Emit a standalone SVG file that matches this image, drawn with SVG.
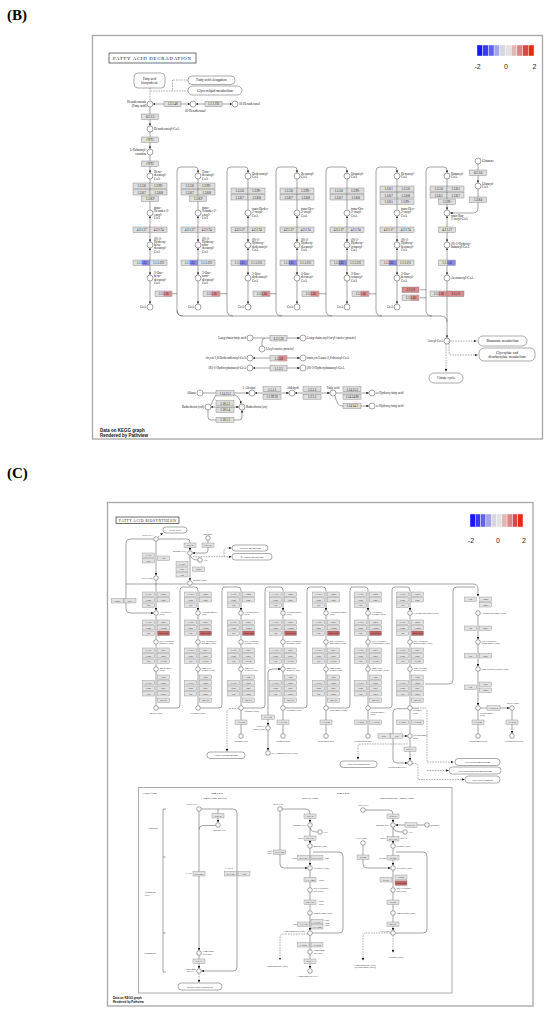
<svg xmlns="http://www.w3.org/2000/svg" width="550" height="1013" viewBox="0 0 550 1013">
<defs>
<marker id="a" viewBox="0 0 4 4" refX="4" refY="2" markerWidth="2.4" markerHeight="2.4" markerUnits="userSpaceOnUse" orient="auto-start-reverse"><path d="M0,0L4,2L0,4z" fill="#111"/></marker>
<style>
.fr{fill:#fff;stroke:#a6a6a6;stroke-width:1.3}
.bb{fill:#dedede;stroke:#666;stroke-width:0.35;width:17px;height:5.5px}
.cb{fill:#e2e2e2;stroke:#666;stroke-width:0.3;width:12px;height:4.5px}
.bl{fill:#8787e6}
.rd{fill:#d98c8c}
.rc{fill:#c26464}
.bt{font-family:"Liberation Serif",serif;font-size:3px;text-anchor:middle;fill:#111}
.ct{font-family:"Liberation Serif",serif;font-size:2.3px;text-anchor:middle;fill:#111}
.lb{font-family:"Liberation Serif",serif;font-size:3.2px;fill:#111}
.lc{font-family:"Liberation Serif",serif;font-size:2.4px;fill:#111}
.mt{font-family:"Liberation Serif",serif;font-size:3.6px;fill:#111;text-anchor:middle}
.mc{font-family:"Liberation Serif",serif;font-size:2.5px;fill:#111;text-anchor:middle}
.r{text-anchor:end}
.m{text-anchor:middle}
.n{fill:#fff;stroke:#333;stroke-width:0.45}
.l{fill:none;stroke:#333;stroke-width:0.45}
.d{fill:none;stroke:#444;stroke-width:0.45;stroke-dasharray:1.6 1}
.mp{fill:#fff;stroke:#444;stroke-width:0.45}
.sc{font-family:"Liberation Sans",Arial,sans-serif;font-size:7px;fill:#222;text-anchor:middle}
.ft{font-family:"Liberation Sans",Arial,sans-serif;font-weight:bold;fill:#111}
.pl{font-family:"Liberation Serif",serif;font-weight:bold;font-size:15px;fill:#000}
.ttl{fill:#fff;stroke:#333;stroke-width:0.7}
.seg{stroke:#fff;stroke-width:0.4}
</style>
</defs>
<rect width="550" height="1013" fill="#fff"/>
<text class="pl" x="7" y="20">(B)</text>
<text class="pl" x="7" y="478">(C)</text>
<rect class="fr" x="92.5" y="35.5" width="450" height="403.5"/>
<rect class="fr" x="107.5" y="502.5" width="425.5" height="503.5"/>

<g id="connectors">
<!-- panel B top -->
<path class="d" d="M188,80H172.5V91M150.5,91H188M150,88V100.5"/>
<path class="l" d="M153,104H190" marker-start="url(#a)" marker-end="url(#a)"/>
<path class="l" d="M196,104H232" marker-start="url(#a)" marker-end="url(#a)"/>
<path class="l" d="M150,107V125.8" marker-end="url(#a)"/>
<path class="l" d="M150,132V148.8" marker-end="url(#a)"/>
<path class="l" d="M150,155V172.8" marker-end="url(#a)"/>
<!-- B columns -->
<path class="l" d="M150,179V209.8M198,179V209.8M248,179V209.8M297,179V209.8M347,179V209.8M397,179V209.8M447,179V209.8" marker-end="url(#a)"/>
<path class="l" d="M150,216V241.8" marker-start="url(#a)" marker-end="url(#a)"/>
<path class="l" d="M198,216V241.8" marker-start="url(#a)" marker-end="url(#a)"/>
<path class="l" d="M248,216V241.8" marker-start="url(#a)" marker-end="url(#a)"/>
<path class="l" d="M297,216V241.8" marker-start="url(#a)" marker-end="url(#a)"/>
<path class="l" d="M347,216V241.8" marker-start="url(#a)" marker-end="url(#a)"/>
<path class="l" d="M397,216V241.8" marker-start="url(#a)" marker-end="url(#a)"/>
<path class="l" d="M447,216V241.8" marker-start="url(#a)" marker-end="url(#a)"/>
<path class="l" d="M150,248V274.8" marker-start="url(#a)" marker-end="url(#a)"/>
<path class="l" d="M198,248V274.8" marker-start="url(#a)" marker-end="url(#a)"/>
<path class="l" d="M248,248V274.8" marker-start="url(#a)" marker-end="url(#a)"/>
<path class="l" d="M297,248V274.8" marker-start="url(#a)" marker-end="url(#a)"/>
<path class="l" d="M347,248V274.8" marker-start="url(#a)" marker-end="url(#a)"/>
<path class="l" d="M397,248V274.8" marker-start="url(#a)" marker-end="url(#a)"/>
<path class="l" d="M447,248V274.8" marker-start="url(#a)" marker-end="url(#a)"/>
<path class="l" d="M150,281V303.8" marker-end="url(#a)"/>
<path class="l" d="M198,281V303.8" marker-end="url(#a)"/>
<path class="l" d="M248,281V303.8" marker-end="url(#a)"/>
<path class="l" d="M297,281V303.8" marker-end="url(#a)"/>
<path class="l" d="M347,281V303.8" marker-end="url(#a)"/>
<path class="l" d="M397,281V303.8" marker-end="url(#a)"/>
<path class="l" d="M447,281V337.8" marker-end="url(#a)"/>
<!-- B loops -->
<path class="l" d="M183,316Q177,316 177,310V171Q177,167 181,167H195Q198,167 198,170V172.8" marker-end="url(#a)"/>
<path class="l" d="M233,316Q227,316 227,310V171Q227,167 231,167H245Q248,167 248,170V172.8" marker-end="url(#a)"/>
<path class="l" d="M282,316Q276,316 276,310V171Q276,167 280,167H294Q297,167 297,170V172.8" marker-end="url(#a)"/>
<path class="l" d="M332,316Q326,316 326,310V171Q326,167 330,167H344Q347,167 347,170V172.8" marker-end="url(#a)"/>
<path class="l" d="M382,316Q376,316 376,310V171Q376,167 380,167H394Q397,167 397,170V172.8" marker-end="url(#a)"/>
<path class="l" d="M432,316Q426,316 426,310V171Q426,167 430,167H444Q447,167 447,170V172.8" marker-end="url(#a)"/>
<path class="l" d="M177,310Q177,316 183,316H441Q447,316 447,322"/>
<path class="l" d="M172,293.75H177M220,293.75H227M270,293.75H276M319,293.75H326M369,293.75H376M420,289.75H426M420,297.75H426"/>
<!-- glutarate -->
<path class="l" d="M478,164V182.8" marker-end="url(#a)"/>
<path class="l" d="M478,189V208Q478,213 473,213H450.2" marker-end="url(#a)"/>
<!-- acetyl-CoA dashed -->
<path class="d" d="M450,341H476.5" marker-end="url(#a)"/>
<path class="d" d="M449,344V352Q449,355 452,355H477.5" marker-end="url(#a)"/>
<path class="d" d="M446,344V371.5" marker-end="url(#a)"/>
<!-- B lower reactions -->
<path class="l" d="M253,338H299.8" marker-end="url(#a)"/>
<path class="l" d="M262,346V341Q262,338.3 265,338.3"/>
<path class="l" d="M253,358H299.8" marker-start="url(#a)" marker-end="url(#a)"/>
<path class="l" d="M253,368H299.8" marker-start="url(#a)" marker-end="url(#a)"/>
<path class="l" d="M203,393H248.8" marker-end="url(#a)"/>
<path class="l" d="M211,405Q214,397 216.5,394.5"/>
<path class="l" d="M234,394.5Q240,397 241,403.8" marker-end="url(#a)"/>
<path class="l" d="M211,407H238.8" marker-start="url(#a)" marker-end="url(#a)"/>
<path class="l" d="M208,410V417Q208,420 211,420H239Q242,420 242,417V410.2" marker-end="url(#a)"/>
<path class="l" d="M255,393H288.8" marker-start="url(#a)" marker-end="url(#a)"/>
<path class="l" d="M295,393H329.8" marker-start="url(#a)" marker-end="url(#a)"/>
<path class="l" d="M336,393H368.8" marker-end="url(#a)"/>
<path class="l" d="M335,395.5Q337,406 342,406H368.8" marker-end="url(#a)"/>

<!-- panel C top -->
<path class="l" d="M156,541.3V575.5" marker-end="url(#a)"/>
<path class="d" d="M158,537L162.8,533" marker-end="url(#a)"/>
<path class="l" d="M153.7,539H130Q126,539 126,543V609Q126,613 130,613H153.5" marker-end="url(#a)"/>
<path class="l" d="M158.3,539H187Q190,539 190,542V550.5" marker-end="url(#a)"/>
<path class="l" d="M208,540.3V550Q208,553 205,553H192.5" marker-end="url(#a)"/>
<path class="d" d="M192.8,556.7H231.5" marker-end="url(#a)"/>
<path class="d" d="M224,556.7V551Q224,548 227,548H231.5" marker-end="url(#a)"/>
<path class="l" d="M190.5,556Q192,560 197.6,560"/>
<path class="l" d="M190,555.3V580.6" marker-end="url(#a)"/>
<path class="l" d="M126,584H187.7M192.3,584H473Q478,584 478,589V596.5" marker-end="url(#a)"/>
<path class="l" d="M156,580.3V610.5" marker-end="url(#a)"/>
<!-- C loops -->
<path class="l" d="M158.3,708H177Q180,708 180,705V590Q180,587 183,587H195Q198,587 198,590V610.5" marker-end="url(#a)"/>
<path class="l" d="M200.3,708H219Q222,708 222,705V590Q222,587 225,587H238Q241,587 241,590V610.5" marker-end="url(#a)"/>
<path class="l" d="M243.3,708H262Q265,708 265,705V590Q265,587 268,587H280Q283,587 283,590V610.5" marker-end="url(#a)"/>
<path class="l" d="M285.3,708H304Q307,708 307,705V590Q307,587 310,587H323Q326,587 326,590V610.5" marker-end="url(#a)"/>
<path class="l" d="M328.3,708H347Q350,708 350,705V590Q350,587 353,587H365Q368,587 368,590V610.5" marker-end="url(#a)"/>
<path class="l" d="M370.3,708H389Q392,708 392,705V590Q392,587 395,587H407Q410,587 410,590V610.5" marker-end="url(#a)"/>
<path class="l" d="M425,684H449Q453,684 453,680V591Q453,587 457,587H475"/>
<!-- C column steps -->
<path class="l" d="M156,615.3V639.5M198,615.3V639.5M241,615.3V639.5M283,615.3V639.5M326,615.3V639.5M368,615.3V639.5M410,615.3V639.5M478,615.3V639.5" marker-end="url(#a)"/>
<path class="l" d="M156,644.3V666.5M198,644.3V666.5M241,644.3V666.5M283,644.3V666.5M326,644.3V666.5M368,644.3V666.5M410,644.3V666.5M478,644.3V666.5" marker-end="url(#a)"/>
<path class="l" d="M156,671.3V705.5M198,671.3V705.5M241,671.3V705.5M283,671.3V705.5M326,671.3V705.5M368,671.3V705.5M410,671.3V705.5M478,671.3V705.5" marker-end="url(#a)"/>
<path class="l" d="M241,710.3V733.5M283,710.3V733.5M326,710.3V733.5M368,710.3V733.5M410,710.3V733.5M478,710.3V733.5M512,710.3V733.5" marker-end="url(#a)"/>
<path class="d" d="M238.7,708.5H231Q227,708.5 227,712.5V751.5" marker-end="url(#a)"/>
<path class="l" d="M280.7,669H272Q268,669 268,673V725.5" marker-start="url(#a)" marker-end="url(#a)"/>
<path class="l" d="M268,730.3V750.5" marker-end="url(#a)"/>
<path class="l" d="M410,738.3V760.5" marker-end="url(#a)"/>
<path class="l" d="M393,736H407.5" marker-end="url(#a)"/>
<path class="l" d="M407.7,708.7H397Q393,708.7 393,712.7V759Q393,763 397,763H407.5" marker-end="url(#a)"/>
<path class="d" d="M407.5,744H361Q358,744 358,747V759.5" marker-end="url(#a)"/>
<path class="d" d="M412.3,708H424Q427,708 427,711V762H453.5" marker-end="url(#a)"/>
<path class="d" d="M427,770.5H448.5" marker-end="url(#a)"/>
<path class="d" d="M412.3,763.5H415Q418,763.5 418,766.5V779.5H464.5" marker-end="url(#a)"/>
<path class="l" d="M480.3,708H509.5" marker-end="url(#a)"/>
<!-- Type I FAS -->
<path class="l" d="M199,811.3V950.5" marker-end="url(#a)"/>
<path class="l" d="M201.3,809H233Q237,809 237,813V967Q237,971 233,971H201.5" marker-end="url(#a)"/>
<path class="l" d="M218,809V822.5" marker-end="url(#a)"/>
<path class="l" d="M215.7,825.5H203Q199,825.5 199,829.5"/>
<path class="l" d="M199,955.3V968.5" marker-end="url(#a)"/>
<path class="d" d="M199,973.3V982.5" marker-end="url(#a)"/>
<!-- Type II bacteria -->
<path class="l" d="M282.3,809H306Q310,809 310,813V822.5" marker-end="url(#a)"/>
<path class="l" d="M280,811.3V864Q280,868 284,868H307.5" marker-end="url(#a)"/>
<path class="l" d="M310,828Q311,832 317.5,832"/>
<path class="l" d="M310,827.3V843.5" marker-end="url(#a)"/>
<path class="l" d="M310,848.3V865.5" marker-end="url(#a)"/>
<path class="l" d="M313,852H339Q343,852 343,856V929Q343,933 339,933H312.3"/>
<path class="l" d="M310,870.3V887.5M310,892.3V910.5M310,915.3V930.5" marker-end="url(#a)"/>
<path class="d" d="M307.7,934H284Q280,934 280,938V960" marker-end="url(#a)"/>
<path class="l" d="M310,935.3V949.5M310,954.3V968.5" marker-end="url(#a)"/>
<!-- mitochondrion -->
<path class="l" d="M365.3,810H389Q393,810 393,814V822.5" marker-end="url(#a)"/>
<path class="l" d="M424.7,825H395.5" marker-end="url(#a)"/>
<path class="l" d="M393,828Q394,832 402.5,832"/>
<path class="l" d="M393,827.3V843.5" marker-end="url(#a)"/>
<path class="l" d="M363,845.3V864Q363,868 367,868H390.5" marker-end="url(#a)"/>
<path class="l" d="M393,848.3V865.5" marker-end="url(#a)"/>
<path class="l" d="M396,852H423Q427,852 427,856V929Q427,933 423,933H395.3"/>
<path class="l" d="M393,870.3V887.5M393,892.3V910.5M393,915.3V930.5" marker-end="url(#a)"/>
<path class="d" d="M393,935.3V952.5" marker-end="url(#a)"/>
<path class="d" d="M390.7,933H367Q363,933 363,937V960.5" marker-end="url(#a)"/>
</g>

<!-- ============ PANEL B ============ -->
<g id="b-title"><rect class="ttl" x="109" y="53" width="87" height="10"/><text x="113" y="60.3" font-family="Liberation Serif, serif" font-size="4.8" textLength="78" fill="#111">FATTY ACID DEGRADATION</text></g>
<g id="b-scale">
<rect class="seg" x="477" y="45" width="5.7" height="11" fill="#1515ff"/><rect class="seg" x="482.7" y="45" width="5.7" height="11" fill="#3a3aff"/><rect class="seg" x="488.4" y="45" width="5.7" height="11" fill="#6262f0"/><rect class="seg" x="494.1" y="45" width="5.7" height="11" fill="#a4a4ee"/><rect class="seg" x="499.8" y="45" width="5.7" height="11" fill="#d6d6e0"/><rect class="seg" x="505.5" y="45" width="5.7" height="11" fill="#e2e2e2"/><rect class="seg" x="511.2" y="45" width="5.7" height="11" fill="#e6b4b4"/><rect class="seg" x="516.9" y="45" width="5.7" height="11" fill="#dc8484"/><rect class="seg" x="522.6" y="45" width="5.7" height="11" fill="#d84848"/><rect class="seg" x="528.3" y="45" width="5.7" height="11" fill="#ec2a10"/>
<text class="sc" x="477.5" y="69">-2</text><text class="sc" x="506" y="69">0</text><text class="sc" x="534.5" y="69">2</text>
</g>
<g id="b-maps">
<rect class="mp" x="134" y="73" width="31" height="15" rx="4"/><text class="mt" x="149.5" y="79.6" style="font-size:3.3px">Fatty acid</text><text class="mt" x="149.5" y="83.6" style="font-size:3.3px">biosynthesis</text>
<rect class="mp" x="188" y="76" width="47" height="8.5" rx="4"/><text class="mt" x="211.5" y="81.4">Fatty acid elongation</text>
<rect class="mp" x="188" y="86" width="54" height="9" rx="4.5"/><text class="mt" x="215" y="91.6">Glycerolipid metabolism</text>
<rect class="mp" x="478" y="336" width="49" height="10" rx="5"/><text class="mt" x="502.5" y="342.2">Butanoate metabolism</text>
<rect class="mp" x="479" y="348" width="56" height="13" rx="5"/><text class="mt" x="507" y="353.5">Glyoxylate and</text><text class="mt" x="507" y="357.8">dicarboxylate metabolism</text>
<rect class="mp" x="429" y="373" width="34" height="10" rx="5"/><text class="mt" x="446" y="379.2">Citrate cycle</text>
</g>
<g id="b-top">
<circle class="n" cx="150" cy="104" r="3"/><text class="lb r" x="146.5" y="103">Hexadecanoate</text><text class="lb r" x="146.5" y="107">(Fatty acid)</text>
<rect class="bb" x="164" y="101.3"/><text class="bt" x="172.5" y="105.4">1.2.1.48</text>
<circle class="n" cx="193" cy="104" r="3"/><text class="lb m" x="195" y="111.5">16-Hexadecanal</text>
<rect class="bb" x="205" y="101.3"/><text class="bt" x="213.5" y="105.4">1.1.1.192</text>
<circle class="n" cx="235" cy="104" r="3"/><text class="lb" x="239" y="105.2">16-Hexadecanol</text>
<rect class="bb" x="141.5" y="114"/><text class="bt" x="150" y="118.1">6.2.1.3</text>
<circle class="n" cx="150" cy="129" r="3"/><text class="lb" x="154" y="130.2">Hexadecanoyl-CoA</text>
<rect class="bb" x="141.5" y="137"/><text class="bt" x="150" y="141.1">CPT1</text>
<circle class="n" cx="150" cy="152" r="3"/><text class="lb r" x="146.5" y="151">L-Palmitoyl-</text><text class="lb r" x="146.5" y="154.6">carnitine</text>
<rect class="bb" x="141.5" y="161"/><text class="bt" x="150" y="165.1">CPT2</text>
</g>

<g id="b-col1" transform="translate(150,0)">
<rect class="bb" x="-17" y="183"/><text class="bt" x="-8.5" y="187.1">1.3.3.6</text>
<rect class="bb" x="0" y="183"/><text class="bt" x="8.5" y="187.1">1.3.99.-</text>
<rect class="bb" x="-17" y="189.5"/><text class="bt" x="-8.5" y="193.6">1.3.8.7</text>
<rect class="bb" x="0" y="189.5"/><text class="bt" x="8.5" y="193.6">1.3.8.8</text>
<rect class="bb" x="-8.5" y="196"/><text class="bt" x="0" y="200.1">1.3.8.9</text>
<rect class="bb" x="-17" y="227"/><text class="bt" x="-8.5" y="231.1">4.2.1.17</text>
<rect class="bb" x="0" y="227"/><text class="bt" x="8.5" y="231.1">4.2.1.74</text>
<rect class="bb" x="-17" y="260"/><rect class="bl" x="-8.2" y="260.2" width="8" height="5.1"/><text class="bt" x="-8.5" y="264.1">1.1.1.35</text>
<rect class="bb" x="0" y="260"/><text class="bt" x="8.5" y="264.1">1.1.1.211</text>
<rect class="bb" x="5" y="291"/><rect class="rd" x="13.5" y="291.2" width="8.3" height="5.1"/><text class="bt" x="13.5" y="295.1">2.3.1.16</text>
<circle class="n" cx="0" cy="176" r="3"/><text class="lb" y="173"><tspan x="4">Hexa-</tspan><tspan x="4" dy="3.3">decanoyl-</tspan><tspan x="4" dy="3.3">CoA</tspan></text>
<circle class="n" cx="0" cy="213" r="3"/><text class="lb" y="209"><tspan x="4">trans-</tspan><tspan x="4" dy="3.3">Hexadec-2-</tspan><tspan x="4" dy="3.3">enoyl-</tspan><tspan x="4" dy="3.3">CoA</tspan></text>
<circle class="n" cx="0" cy="245" r="3"/><text class="lb" y="239.5"><tspan x="4">(S)-3-</tspan><tspan x="4" dy="3.3">Hydroxy-</tspan><tspan x="4" dy="3.3">hexa-</tspan><tspan x="4" dy="3.3">decanoyl-</tspan><tspan x="4" dy="3.3">CoA</tspan></text>
<circle class="n" cx="0" cy="278" r="3"/><text class="lb" y="274"><tspan x="4">3-Oxo-</tspan><tspan x="4" dy="3.3">hexa-</tspan><tspan x="4" dy="3.3">decanoyl-</tspan><tspan x="4" dy="3.3">CoA</tspan></text>
<circle class="n" cx="0" cy="307" r="3"/><text class="lb r" x="-4" y="308.2">CoA</text>
</g>

<g id="b-col2" transform="translate(198,0)">
<rect class="bb" x="-17" y="183"/><text class="bt" x="-8.5" y="187.1">1.3.3.6</text>
<rect class="bb" x="0" y="183"/><text class="bt" x="8.5" y="187.1">1.3.99.-</text>
<rect class="bb" x="-17" y="189.5"/><text class="bt" x="-8.5" y="193.6">1.3.8.7</text>
<rect class="bb" x="0" y="189.5"/><text class="bt" x="8.5" y="193.6">1.3.8.8</text>
<rect class="bb" x="-8.5" y="196"/><text class="bt" x="0" y="200.1">1.3.8.9</text>
<rect class="bb" x="-17" y="227"/><text class="bt" x="-8.5" y="231.1">4.2.1.17</text>
<rect class="bb" x="0" y="227"/><text class="bt" x="8.5" y="231.1">4.2.1.74</text>
<rect class="bb" x="-17" y="260"/><rect class="bl" x="-8.2" y="260.2" width="8" height="5.1"/><text class="bt" x="-8.5" y="264.1">1.1.1.35</text>
<rect class="bb" x="0" y="260"/><text class="bt" x="8.5" y="264.1">1.1.1.211</text>
<rect class="bb" x="5" y="291"/><rect class="rd" x="13.5" y="291.2" width="8.3" height="5.1"/><text class="bt" x="13.5" y="295.1">2.3.1.16</text>
<circle class="n" cx="0" cy="176" r="3"/><text class="lb" y="173"><tspan x="4">Tetra-</tspan><tspan x="4" dy="3.3">decanoyl-</tspan><tspan x="4" dy="3.3">CoA</tspan></text>
<circle class="n" cx="0" cy="213" r="3"/><text class="lb" y="209"><tspan x="4">trans-</tspan><tspan x="4" dy="3.3">Tetradec-2-</tspan><tspan x="4" dy="3.3">enoyl-</tspan><tspan x="4" dy="3.3">CoA</tspan></text>
<circle class="n" cx="0" cy="245" r="3"/><text class="lb" y="239.5"><tspan x="4">(S)-3-</tspan><tspan x="4" dy="3.3">Hydroxy-</tspan><tspan x="4" dy="3.3">tetra-</tspan><tspan x="4" dy="3.3">decanoyl-</tspan><tspan x="4" dy="3.3">CoA</tspan></text>
<circle class="n" cx="0" cy="278" r="3"/><text class="lb" y="274"><tspan x="4">3-Oxo-</tspan><tspan x="4" dy="3.3">tetra-</tspan><tspan x="4" dy="3.3">decanoyl-</tspan><tspan x="4" dy="3.3">CoA</tspan></text>
<circle class="n" cx="0" cy="307" r="3"/><text class="lb r" x="-4" y="308.2">CoA</text>
</g>

<g id="b-col3" transform="translate(248,0)">
<rect class="bb" x="-17" y="188"/><text class="bt" x="-8.5" y="192.1">1.3.3.6</text>
<rect class="bb" x="0" y="188"/><text class="bt" x="8.5" y="192.1">1.3.99.-</text>
<rect class="bb" x="-17" y="194.5"/><text class="bt" x="-8.5" y="198.6">1.3.8.7</text>
<rect class="bb" x="0" y="194.5"/><text class="bt" x="8.5" y="198.6">1.3.8.8</text>
<rect class="bb" x="-17" y="227"/><text class="bt" x="-8.5" y="231.1">4.2.1.17</text>
<rect class="bb" x="0" y="227"/><text class="bt" x="8.5" y="231.1">4.2.1.74</text>
<rect class="bb" x="-17" y="260"/><rect class="bl" x="-8.2" y="260.2" width="8" height="5.1"/><text class="bt" x="-8.5" y="264.1">1.1.1.35</text>
<rect class="bb" x="0" y="260"/><text class="bt" x="8.5" y="264.1">1.1.1.211</text>
<rect class="bb" x="5" y="291"/><rect class="rd" x="13.5" y="291.2" width="8.3" height="5.1"/><text class="bt" x="13.5" y="295.1">2.3.1.16</text>
<circle class="n" cx="0" cy="176" r="3"/><text class="lb" y="175"><tspan x="4">Dodecanoyl-</tspan><tspan x="4" dy="3.3">CoA</tspan></text>
<circle class="n" cx="0" cy="213" r="3"/><text class="lb" y="210"><tspan x="4">trans-Dodec-</tspan><tspan x="4" dy="3.3">2-enoyl-</tspan><tspan x="4" dy="3.3">CoA</tspan></text>
<circle class="n" cx="0" cy="245" r="3"/><text class="lb" y="241"><tspan x="4">(S)-3-</tspan><tspan x="4" dy="3.3">Hydroxy-</tspan><tspan x="4" dy="3.3">dodecanoyl-</tspan><tspan x="4" dy="3.3">CoA</tspan></text>
<circle class="n" cx="0" cy="278" r="3"/><text class="lb" y="275"><tspan x="4">3-Oxo-</tspan><tspan x="4" dy="3.3">dodecanoyl-</tspan><tspan x="4" dy="3.3">CoA</tspan></text>
<circle class="n" cx="0" cy="307" r="3"/><text class="lb r" x="-4" y="308.2">CoA</text>
</g>

<g id="b-col4" transform="translate(297,0)">
<rect class="bb" x="-17" y="188"/><text class="bt" x="-8.5" y="192.1">1.3.3.6</text>
<rect class="bb" x="0" y="188"/><text class="bt" x="8.5" y="192.1">1.3.99.-</text>
<rect class="bb" x="-17" y="194.5"/><text class="bt" x="-8.5" y="198.6">1.3.8.7</text>
<rect class="bb" x="0" y="194.5"/><text class="bt" x="8.5" y="198.6">1.3.8.8</text>
<rect class="bb" x="-17" y="227"/><text class="bt" x="-8.5" y="231.1">4.2.1.17</text>
<rect class="bb" x="0" y="227"/><text class="bt" x="8.5" y="231.1">4.2.1.74</text>
<rect class="bb" x="-17" y="260"/><rect class="bl" x="-8.2" y="260.2" width="8" height="5.1"/><text class="bt" x="-8.5" y="264.1">1.1.1.35</text>
<rect class="bb" x="0" y="260"/><text class="bt" x="8.5" y="264.1">1.1.1.211</text>
<rect class="bb" x="5" y="291"/><rect class="rd" x="13.5" y="291.2" width="8.3" height="5.1"/><text class="bt" x="13.5" y="295.1">2.3.1.16</text>
<circle class="n" cx="0" cy="176" r="3"/><text class="lb" y="175"><tspan x="4">Decanoyl-</tspan><tspan x="4" dy="3.3">CoA</tspan></text>
<circle class="n" cx="0" cy="213" r="3"/><text class="lb" y="210"><tspan x="4">trans-Dec-</tspan><tspan x="4" dy="3.3">2-enoyl-</tspan><tspan x="4" dy="3.3">CoA</tspan></text>
<circle class="n" cx="0" cy="245" r="3"/><text class="lb" y="241"><tspan x="4">(S)-3-</tspan><tspan x="4" dy="3.3">Hydroxy-</tspan><tspan x="4" dy="3.3">decanoyl-</tspan><tspan x="4" dy="3.3">CoA</tspan></text>
<circle class="n" cx="0" cy="278" r="3"/><text class="lb" y="275"><tspan x="4">3-Oxo-</tspan><tspan x="4" dy="3.3">decanoyl-</tspan><tspan x="4" dy="3.3">CoA</tspan></text>
<circle class="n" cx="0" cy="307" r="3"/><text class="lb r" x="-4" y="308.2">CoA</text>
</g>

<g id="b-col5" transform="translate(347,0)">
<rect class="bb" x="-17" y="188"/><text class="bt" x="-8.5" y="192.1">1.3.3.6</text>
<rect class="bb" x="0" y="188"/><text class="bt" x="8.5" y="192.1">1.3.99.-</text>
<rect class="bb" x="-17" y="194.5"/><text class="bt" x="-8.5" y="198.6">1.3.8.7</text>
<rect class="bb" x="0" y="194.5"/><text class="bt" x="8.5" y="198.6">1.3.8.8</text>
<rect class="bb" x="-17" y="227"/><text class="bt" x="-8.5" y="231.1">4.2.1.17</text>
<rect class="bb" x="0" y="227"/><text class="bt" x="8.5" y="231.1">4.2.1.74</text>
<rect class="bb" x="-17" y="260"/><rect class="bl" x="-8.2" y="260.2" width="8" height="5.1"/><text class="bt" x="-8.5" y="264.1">1.1.1.35</text>
<rect class="bb" x="0" y="260"/><text class="bt" x="8.5" y="264.1">1.1.1.211</text>
<rect class="bb" x="5" y="291"/><rect class="rd" x="13.5" y="291.2" width="8.3" height="5.1"/><text class="bt" x="13.5" y="295.1">2.3.1.16</text>
<circle class="n" cx="0" cy="176" r="3"/><text class="lb" y="175"><tspan x="4">Octanoyl-</tspan><tspan x="4" dy="3.3">CoA</tspan></text>
<circle class="n" cx="0" cy="213" r="3"/><text class="lb" y="210"><tspan x="4">trans-Oct-</tspan><tspan x="4" dy="3.3">2-enoyl-</tspan><tspan x="4" dy="3.3">CoA</tspan></text>
<circle class="n" cx="0" cy="245" r="3"/><text class="lb" y="241"><tspan x="4">(S)-3-</tspan><tspan x="4" dy="3.3">Hydroxy-</tspan><tspan x="4" dy="3.3">octanoyl-</tspan><tspan x="4" dy="3.3">CoA</tspan></text>
<circle class="n" cx="0" cy="278" r="3"/><text class="lb" y="275"><tspan x="4">3-Oxo-</tspan><tspan x="4" dy="3.3">octanoyl-</tspan><tspan x="4" dy="3.3">CoA</tspan></text>
<circle class="n" cx="0" cy="307" r="3"/><text class="lb r" x="-4" y="308.2">CoA</text>
</g>

<g id="b-col6" transform="translate(397,0)">
<rect class="bb" x="-17" y="186"/><text class="bt" x="-8.5" y="190.1">1.3.8.1</text>
<rect class="bb" x="0" y="186"/><text class="bt" x="8.5" y="190.1">1.3.3.6</text>
<rect class="bb" x="-17" y="192.5"/><text class="bt" x="-8.5" y="196.6">1.3.8.7</text>
<rect class="bb" x="0" y="192.5"/><text class="bt" x="8.5" y="196.6">1.3.8.8</text>
<rect class="bb" x="-17" y="199"/><text class="bt" x="-8.5" y="203.1">1.3.8.5</text>
<rect class="bb" x="0" y="199"/><text class="bt" x="8.5" y="203.1">1.3.99.-</text>
<rect class="bb" x="-17" y="227"/><text class="bt" x="-8.5" y="231.1">4.2.1.17</text>
<rect class="bb" x="0" y="227"/><text class="bt" x="8.5" y="231.1">4.2.1.74</text>
<rect class="bb" x="-17" y="260"/><rect class="bl" x="-8.2" y="260.2" width="8" height="5.1"/><text class="bt" x="-8.5" y="264.1">1.1.1.35</text>
<rect class="bb" x="0" y="260"/><text class="bt" x="8.5" y="264.1">1.1.1.211</text>
<rect class="bb rd" x="5" y="287"/><text class="bt" x="13.5" y="291.1">2.3.1.9</text>
<rect class="bb" x="5" y="295"/><rect class="rd" x="13.5" y="295.2" width="8.3" height="5.1"/><text class="bt" x="13.5" y="299.1">2.3.1.16</text>
<circle class="n" cx="0" cy="176" r="3"/><text class="lb" y="175"><tspan x="4">Hexanoyl-</tspan><tspan x="4" dy="3.3">CoA</tspan></text>
<circle class="n" cx="0" cy="213" r="3"/><text class="lb" y="210"><tspan x="4">trans-Hex-</tspan><tspan x="4" dy="3.3">2-enoyl-</tspan><tspan x="4" dy="3.3">CoA</tspan></text>
<circle class="n" cx="0" cy="245" r="3"/><text class="lb" y="241"><tspan x="4">(S)-3-</tspan><tspan x="4" dy="3.3">Hydroxy-</tspan><tspan x="4" dy="3.3">hexanoyl-</tspan><tspan x="4" dy="3.3">CoA</tspan></text>
<circle class="n" cx="0" cy="278" r="3"/><text class="lb" y="275"><tspan x="4">3-Oxo-</tspan><tspan x="4" dy="3.3">hexanoyl-</tspan><tspan x="4" dy="3.3">CoA</tspan></text>
<circle class="n" cx="0" cy="307" r="3"/><text class="lb r" x="-4" y="308.2">CoA</text>
</g>

<g id="b-col7" transform="translate(447,0)">
<rect class="bb" x="-17" y="186"/><text class="bt" x="-8.5" y="190.1">1.3.3.6</text>
<rect class="bb" x="0" y="186"/><text class="bt" x="8.5" y="190.1">1.3.8.5</text>
<rect class="bb" x="-17" y="192.5"/><text class="bt" x="-8.5" y="196.6">1.3.8.1</text>
<rect class="bb" x="0" y="192.5"/><text class="bt" x="8.5" y="196.6">1.3.8.7</text>
<rect class="bb" x="-8.5" y="199"/><text class="bt" x="0" y="203.1">1.3.99.-</text>
<rect class="bb" x="-8.5" y="227"/><text class="bt" x="0" y="231.1">4.2.1.17</text>
<rect class="bb" x="-8.5" y="260"/><rect class="bl" x="0.3" y="260.2" width="8" height="5.1"/><text class="bt" x="0" y="264.1">1.1.1.35</text>
<rect class="bb" x="-17" y="291"/><rect class="rd" x="-8.5" y="291.2" width="8.3" height="5.1"/><text class="bt" x="-8.5" y="295.1">2.3.1.16</text>
<rect class="bb rd" x="0" y="291"/><text class="bt" x="8.5" y="295.1">2.3.1.9</text>
<circle class="n" cx="0" cy="176" r="3"/><text class="lb" y="175"><tspan x="4">Butanoyl-</tspan><tspan x="4" dy="3.3">CoA</tspan></text>
<circle class="n" cx="0" cy="213" r="3"/><text class="lb" y="217"><tspan x="4">trans-But-</tspan><tspan x="4" dy="3.3">2-enoyl-CoA</tspan></text>
<circle class="n" cx="0" cy="245" r="3"/><text class="lb" y="244.5"><tspan x="4">(S)-3-Hydroxy-</tspan><tspan x="4" dy="3.3">butanoyl-CoA</tspan></text>
<circle class="n" cx="0" cy="278" r="3"/><text class="lb" x="4" y="279.2">Acetoacetyl-CoA</text>
<circle class="n" cx="0" cy="341" r="3"/><text class="lb r" x="-4" y="342.2">Acetyl-CoA</text>
</g>

<g id="b-glutarate">
<circle class="n" cx="478" cy="161" r="3"/><text class="lb" x="482" y="162.2">Glutarate</text>
<rect class="bb" x="469.5" y="170"/><text class="bt" x="478" y="174.1">6.2.1.6</text>
<circle class="n" cx="478" cy="186" r="3"/><text class="lb" y="185"><tspan x="482">Glutaryl-</tspan><tspan x="482" dy="3.3">CoA</tspan></text>
<rect class="bb" x="469.5" y="197"/><text class="bt" x="478" y="201.1">1.3.8.6</text>
</g>

<g id="b-acp">
<circle class="n" cx="250" cy="338" r="3"/><text class="lb r" x="246" y="339.2">Long-chain-fatty acid</text>
<rect class="bb" x="270" y="335.5"/><text class="bt" x="278.5" y="339.6">6.2.1.20</text>
<circle class="n" cx="303" cy="338" r="3"/><text class="lb" x="307" y="339.2">Long-chain acyl-[acyl-carrier protein]</text>
<circle class="n" cx="262" cy="349" r="3"/><text class="lb" x="266" y="350.2">[Acyl-carrier protein]</text>
<circle class="n" cx="250" cy="358" r="3"/><text class="lb r" x="246" y="359.2">cis,cis-3,6-Dodecadienoyl-CoA</text>
<rect class="bb" x="270" y="355.5"/><rect class="rd" x="278.5" y="355.7" width="8.3" height="5.1"/><text class="bt" x="278.5" y="359.6">5.3.3.8</text>
<circle class="n" cx="303" cy="358" r="3"/><text class="lb" x="307" y="359.2">trans,cis-Lauro-2,6-dienoyl-CoA</text>
<circle class="n" cx="250" cy="368" r="3"/><text class="lb r" x="246" y="369.2">(R)-3-Hydroxybutanoyl-CoA</text>
<rect class="bb" x="270" y="365.5"/><text class="bt" x="278.5" y="369.6">5.1.2.3</text>
<circle class="n" cx="303" cy="368" r="3"/><text class="lb" x="307" y="369.2">(S)-3-Hydroxybutanoyl-CoA</text>
</g>

<g id="b-alkane">
<circle class="n" cx="200" cy="393" r="3"/><text class="lb r" x="196" y="394.2">Alkane</text>
<rect class="bb" x="216" y="390.5" style="width:18px"/><text class="bt" x="225" y="394.6">1.14.15.3</text>
<rect class="bb" x="216" y="400.7" style="width:18px;height:5px"/><text class="bt" x="225" y="404.5">1.18.1.2</text>
<rect class="bb" x="216" y="407.5" style="width:18px;height:5px"/><text class="bt" x="225" y="411.3">1.18.1.4</text>
<rect class="bb" x="216" y="417.3" style="width:18px;height:5px"/><text class="bt" x="225" y="421.1">1.18.1.1</text>
<circle class="n" cx="208" cy="407" r="3"/><text class="lb r" x="204" y="408.2">Rubredoxin (red)</text>
<circle class="n" cx="242" cy="407" r="3"/><text class="lb" x="246" y="408.2">Rubredoxin (ox)</text>
<circle class="n" cx="252" cy="393" r="3"/><text class="lb m" x="249" y="388.5">1-Alcohol</text>
<rect class="bb" x="263" y="386.8" style="width:18px;height:5px"/><text class="bt" x="272" y="390.6">1.1.1.1</text>
<rect class="bb" x="263" y="394.2" style="width:18px;height:5px"/><text class="bt" x="272" y="398">1.1.99.20</text>
<circle class="n" cx="292" cy="393" r="3"/><text class="lb m" x="293" y="388.5">Aldehyde</text>
<rect class="bb" x="303" y="386.8" style="width:18px;height:5px"/><text class="bt" x="312" y="390.6">1.2.1.3</text>
<rect class="bb" x="303" y="394.2" style="width:18px;height:5px"/><text class="bt" x="312" y="398">1.2.1.5</text>
<circle class="n" cx="333" cy="393" r="3"/><text class="lb m" x="333" y="388.5">Fatty acid</text>
<rect class="bb" x="343" y="386.8" style="width:18px;height:5px"/><text class="bt" x="352" y="390.6">1.14.15.3</text>
<rect class="bb" x="343" y="394.2" style="width:18px;height:5px"/><text class="bt" x="352" y="398">1.14.14.80</text>
<rect class="bb" x="343" y="403.5" style="width:18px;height:5px"/><text class="bt" x="352" y="407.3">1.14.14.1</text>
<circle class="n" cx="372" cy="393" r="3"/><text class="lb" x="376" y="394.2">ω-Hydroxy fatty acid</text>
<circle class="n" cx="372" cy="406" r="3"/><text class="lb" x="376" y="407.2">ω-Hydroxy fatty acid</text>
</g>
<g id="b-footer"><text class="ft" x="100" y="431.5" font-size="4.5">Data on KEGG graph</text><text class="ft" x="100" y="437" font-size="4.5">Rendered by Pathview</text></g>

<!-- ============ PANEL C ============ -->
<g id="c-title"><rect class="ttl" x="116" y="517" width="63" height="6.5"/><text x="119" y="521.8" font-family="Liberation Serif, serif" font-size="3.4" textLength="57" fill="#111">FATTY ACID BIOSYNTHESIS</text></g>
<g id="c-scale">
<rect class="seg" x="470" y="514" width="5.3" height="13" fill="#1515ff"/><rect class="seg" x="475.3" y="514" width="5.3" height="13" fill="#3a3aff"/><rect class="seg" x="480.6" y="514" width="5.3" height="13" fill="#6262f0"/><rect class="seg" x="485.9" y="514" width="5.3" height="13" fill="#a4a4ee"/><rect class="seg" x="491.2" y="514" width="5.3" height="13" fill="#d6d6e0"/><rect class="seg" x="496.5" y="514" width="5.3" height="13" fill="#e2e2e2"/><rect class="seg" x="501.8" y="514" width="5.3" height="13" fill="#e6b4b4"/><rect class="seg" x="507.1" y="514" width="5.3" height="13" fill="#dc8484"/><rect class="seg" x="512.4" y="514" width="5.3" height="13" fill="#d84848"/><rect class="seg" x="517.7" y="514" width="5.3" height="13" fill="#ec2a10"/>
<text class="sc" x="471" y="543" font-size="6.5">-2</text><text class="sc" x="498" y="543" font-size="6.5">0</text><text class="sc" x="524" y="543" font-size="6.5">2</text>
</g>
<g id="c-maps">
<rect class="mp" x="163" y="527" width="24" height="6" rx="3"/><text class="mc" x="175" y="531">Citrate cycle</text>
<rect class="mp" x="232" y="545" width="36" height="6" rx="3"/><text class="mc" x="250" y="549">Pyruvate metabolism</text>
<rect class="mp" x="232" y="553.5" width="40" height="6.5" rx="3"/><text class="mc" x="252" y="557.7">β-Alanine metabolism</text>
<rect class="mp" x="207" y="752" width="38" height="6.5" rx="3"/><text class="mc" x="226" y="756.2">Lipoic acid metabolism</text>
<rect class="mp" x="340" y="761" width="37" height="6.5" rx="3"/><text class="mc" x="358.5" y="765.2">Fatty acid degradation</text>
<rect class="mp" x="455" y="758.5" width="45" height="7" rx="3.5"/><text class="mc" x="477.5" y="763">Glycerolipid metabolism</text>
<rect class="mp" x="449" y="767" width="52" height="7" rx="3.5"/><text class="mc" x="475" y="771.5">Glycerophospholipid metabolism</text>
<rect class="mp" x="465" y="776" width="35" height="7" rx="3.5"/><text class="mc" x="482.5" y="780.5">Fatty acid elongation</text>
<rect class="mp" x="178" y="983" width="44" height="7" rx="3.5"/><text class="mc" x="200" y="987.5">Mycolic acid biosynthesis</text>
</g>
<g id="c-start">
<circle class="n" cx="156" cy="539" r="2.3"/><text class="lc r" x="153" y="536">Acetyl-CoA</text>
<rect class="cb" x="142.5" y="553"/><text class="ct" x="148.5" y="556.4">FASN</text>
<rect class="cb" x="142.5" y="558.5"/><text class="ct" x="148.5" y="561.9">Fas1</text>
<rect class="cb" x="157.5" y="556"/><text class="ct" x="163.5" y="559.4">Fas</text>
<circle class="n" cx="156" cy="578" r="2.3"/><text class="lc r" x="152.5" y="579">Acetyl-[acp]</text>
<rect class="cb" x="111.5" y="598.5"/><text class="ct" x="117.5" y="601.9">FabH</text>
<rect class="cb" x="124" y="598.5"/><text class="ct" x="130" y="601.9">FabY</text>
<text class="lc m" x="208" y="534.5">Malonate</text><circle class="n" cx="208" cy="538" r="2.3"/>
<rect class="cb" x="184" y="543"/><text class="ct" x="190" y="546.4">6.4.1.2</text>
<rect class="cb" x="202" y="543"/><text class="ct" x="208" y="546.4">6.2.1.76</text>
<circle class="n" cx="190" cy="553" r="2.3"/><text class="lc r" x="186.5" y="552">Malonyl-CoA</text>
<circle class="n" cx="200" cy="560" r="2.3"/><text class="lc" x="203" y="561">ACP</text>
<rect class="cb" x="176" y="561.5"/><text class="ct" x="182" y="564.9">FASN</text>
<rect class="cb" x="176" y="567"/><text class="ct" x="182" y="570.4">Fas1</text>
<rect class="cb" x="176" y="572.5"/><text class="ct" x="182" y="575.9">Fas</text>
<rect class="cb" x="192.5" y="567"/><text class="ct" x="198.5" y="570.4">FabD</text>
<circle class="n" cx="190" cy="583" r="2.3"/><text class="lc" x="193" y="581">Malonyl-[acp]</text>
</g>

<g id="c-col1" transform="translate(156,0)">
<rect class="cb" x="-13.5" y="592"/><text class="ct" x="-7.5" y="595.4">FASN</text><rect class="cb" x="1.5" y="592"/><text class="ct" x="7.5" y="595.4">FabB</text>
<rect class="cb" x="-13.5" y="597.5"/><text class="ct" x="-7.5" y="600.9">Fas2</text><rect class="cb" x="1.5" y="597.5"/><text class="ct" x="7.5" y="600.9">FabF</text>
<rect class="cb" x="-13.5" y="603"/><text class="ct" x="-7.5" y="606.4">Fas</text>
<rect class="cb" x="-13.5" y="620"/><text class="ct" x="-7.5" y="623.4">FASN</text><rect class="cb" x="1.5" y="620"/><text class="ct" x="7.5" y="623.4">FabG</text>
<rect class="cb" x="-13.5" y="625.5"/><text class="ct" x="-7.5" y="628.9">Fas2</text><rect class="cb" x="1.5" y="625.5"/><text class="ct" x="7.5" y="628.9">CBR4</text>
<rect class="cb" x="-13.5" y="631"/><text class="ct" x="-7.5" y="634.4">Fas</text><rect class="cb rc" x="1.5" y="631"/><text class="ct" x="7.5" y="634.4">HSD17B8</text>
<rect class="cb" x="-13.5" y="648"/><text class="ct" x="-7.5" y="651.4">FASN</text><rect class="cb" x="1.5" y="648"/><text class="ct" x="7.5" y="651.4">FabA</text>
<rect class="cb" x="-13.5" y="653.5"/><text class="ct" x="-7.5" y="656.9">Fas2</text><rect class="cb" x="1.5" y="653.5"/><text class="ct" x="7.5" y="656.9">FabZ</text>
<rect class="cb" x="-13.5" y="659"/><text class="ct" x="-7.5" y="662.4">Fas</text><rect class="cb" x="1.5" y="659"/><text class="ct" x="7.5" y="662.4">HTD2</text>
<rect class="cb" x="1.5" y="675"/><text class="ct" x="7.5" y="678.4">FabI</text>
<rect class="cb" x="-13.5" y="680.5"/><text class="ct" x="-7.5" y="683.9">FASN</text><rect class="cb" x="1.5" y="680.5"/><text class="ct" x="7.5" y="683.9">FabK</text>
<rect class="cb" x="-13.5" y="686"/><text class="ct" x="-7.5" y="689.4">Fas2</text><rect class="cb" x="1.5" y="686"/><text class="ct" x="7.5" y="689.4">FabL</text>
<rect class="cb" x="-13.5" y="691.5"/><text class="ct" x="-7.5" y="694.9">Fas</text><rect class="cb" x="1.5" y="691.5"/><text class="ct" x="7.5" y="694.9">FabV</text>
<rect class="cb" x="1.5" y="698"/><text class="ct" x="7.5" y="701.4">MECR</text>
<circle class="n" cx="0" cy="613" r="2.3"/><text class="lc" y="612.5"><tspan x="3.5">Acetoacetyl-</tspan><tspan x="3.5" dy="2.8">[acp]</tspan></text>
<circle class="n" cx="0" cy="642" r="2.3"/><text class="lc" y="641.5"><tspan x="3.5">(R)-3-Hydroxy-</tspan><tspan x="3.5" dy="2.8">butanoyl-[acp]</tspan></text>
<circle class="n" cx="0" cy="669" r="2.3"/><text class="lc" y="668.5"><tspan x="3.5">But-2-enoyl-</tspan><tspan x="3.5" dy="2.8">[acp]</tspan></text>
<circle class="n" cx="0" cy="708" r="2.3"/><text class="lc m" x="0" y="714">Butyryl-[acp]</text>
</g>

<g id="c-col2" transform="translate(198,0)">
<rect class="cb" x="-13.5" y="592"/><text class="ct" x="-7.5" y="595.4">FASN</text><rect class="cb" x="1.5" y="592"/><text class="ct" x="7.5" y="595.4">FabB</text>
<rect class="cb" x="-13.5" y="597.5"/><text class="ct" x="-7.5" y="600.9">Fas2</text><rect class="cb" x="1.5" y="597.5"/><text class="ct" x="7.5" y="600.9">FabF</text>
<rect class="cb" x="-13.5" y="603"/><text class="ct" x="-7.5" y="606.4">Fas</text>
<rect class="cb" x="-13.5" y="620"/><text class="ct" x="-7.5" y="623.4">FASN</text><rect class="cb" x="1.5" y="620"/><text class="ct" x="7.5" y="623.4">FabG</text>
<rect class="cb" x="-13.5" y="625.5"/><text class="ct" x="-7.5" y="628.9">Fas2</text><rect class="cb" x="1.5" y="625.5"/><text class="ct" x="7.5" y="628.9">CBR4</text>
<rect class="cb" x="-13.5" y="631"/><text class="ct" x="-7.5" y="634.4">Fas</text><rect class="cb rc" x="1.5" y="631"/><text class="ct" x="7.5" y="634.4">HSD17B8</text>
<rect class="cb" x="-13.5" y="648"/><text class="ct" x="-7.5" y="651.4">FASN</text><rect class="cb" x="1.5" y="648"/><text class="ct" x="7.5" y="651.4">FabA</text>
<rect class="cb" x="-13.5" y="653.5"/><text class="ct" x="-7.5" y="656.9">Fas2</text><rect class="cb" x="1.5" y="653.5"/><text class="ct" x="7.5" y="656.9">FabZ</text>
<rect class="cb" x="-13.5" y="659"/><text class="ct" x="-7.5" y="662.4">Fas</text><rect class="cb" x="1.5" y="659"/><text class="ct" x="7.5" y="662.4">HTD2</text>
<rect class="cb" x="1.5" y="675"/><text class="ct" x="7.5" y="678.4">FabI</text>
<rect class="cb" x="-13.5" y="680.5"/><text class="ct" x="-7.5" y="683.9">FASN</text><rect class="cb" x="1.5" y="680.5"/><text class="ct" x="7.5" y="683.9">FabK</text>
<rect class="cb" x="-13.5" y="686"/><text class="ct" x="-7.5" y="689.4">Fas2</text><rect class="cb" x="1.5" y="686"/><text class="ct" x="7.5" y="689.4">FabL</text>
<rect class="cb" x="-13.5" y="691.5"/><text class="ct" x="-7.5" y="694.9">Fas</text><rect class="cb" x="1.5" y="691.5"/><text class="ct" x="7.5" y="694.9">FabV</text>
<rect class="cb" x="1.5" y="698"/><text class="ct" x="7.5" y="701.4">MECR</text>
<circle class="n" cx="0" cy="613" r="2.3"/><text class="lc" y="612.5"><tspan x="3.5">3-Oxohexanoyl-</tspan><tspan x="3.5" dy="2.8">[acp]</tspan></text>
<circle class="n" cx="0" cy="642" r="2.3"/><text class="lc" y="641.5"><tspan x="3.5">(R)-3-Hydroxy-</tspan><tspan x="3.5" dy="2.8">hexanoyl-[acp]</tspan></text>
<circle class="n" cx="0" cy="669" r="2.3"/><text class="lc" y="668.5"><tspan x="3.5">trans-Hex-</tspan><tspan x="3.5" dy="2.8">2-enoyl-[acp]</tspan></text>
<circle class="n" cx="0" cy="708" r="2.3"/><text class="lc m" x="0" y="714">Hexanoyl-[acp]</text>
</g>

<g id="c-col3" transform="translate(241,0)">
<rect class="cb" x="-13.5" y="592"/><text class="ct" x="-7.5" y="595.4">FASN</text><rect class="cb" x="1.5" y="592"/><text class="ct" x="7.5" y="595.4">FabB</text>
<rect class="cb" x="-13.5" y="597.5"/><text class="ct" x="-7.5" y="600.9">Fas2</text><rect class="cb" x="1.5" y="597.5"/><text class="ct" x="7.5" y="600.9">FabF</text>
<rect class="cb" x="-13.5" y="603"/><text class="ct" x="-7.5" y="606.4">Fas</text>
<rect class="cb" x="-13.5" y="620"/><text class="ct" x="-7.5" y="623.4">FASN</text><rect class="cb" x="1.5" y="620"/><text class="ct" x="7.5" y="623.4">FabG</text>
<rect class="cb" x="-13.5" y="625.5"/><text class="ct" x="-7.5" y="628.9">Fas2</text><rect class="cb" x="1.5" y="625.5"/><text class="ct" x="7.5" y="628.9">CBR4</text>
<rect class="cb" x="-13.5" y="631"/><text class="ct" x="-7.5" y="634.4">Fas</text><rect class="cb rc" x="1.5" y="631"/><text class="ct" x="7.5" y="634.4">HSD17B8</text>
<rect class="cb" x="-13.5" y="648"/><text class="ct" x="-7.5" y="651.4">FASN</text><rect class="cb" x="1.5" y="648"/><text class="ct" x="7.5" y="651.4">FabA</text>
<rect class="cb" x="-13.5" y="653.5"/><text class="ct" x="-7.5" y="656.9">Fas2</text><rect class="cb" x="1.5" y="653.5"/><text class="ct" x="7.5" y="656.9">FabZ</text>
<rect class="cb" x="-13.5" y="659"/><text class="ct" x="-7.5" y="662.4">Fas</text><rect class="cb" x="1.5" y="659"/><text class="ct" x="7.5" y="662.4">HTD2</text>
<rect class="cb" x="1.5" y="675"/><text class="ct" x="7.5" y="678.4">FabI</text>
<rect class="cb" x="-13.5" y="680.5"/><text class="ct" x="-7.5" y="683.9">FASN</text><rect class="cb" x="1.5" y="680.5"/><text class="ct" x="7.5" y="683.9">FabK</text>
<rect class="cb" x="-13.5" y="686"/><text class="ct" x="-7.5" y="689.4">Fas2</text><rect class="cb" x="1.5" y="686"/><text class="ct" x="7.5" y="689.4">FabL</text>
<rect class="cb" x="-13.5" y="691.5"/><text class="ct" x="-7.5" y="694.9">Fas</text><rect class="cb" x="1.5" y="691.5"/><text class="ct" x="7.5" y="694.9">FabV</text>
<rect class="cb" x="1.5" y="698"/><text class="ct" x="7.5" y="701.4">MECR</text>
<rect class="cb" x="-6" y="720"/><text class="ct" x="0" y="723.4">3.1.2.14</text>
<circle class="n" cx="0" cy="613" r="2.3"/><text class="lc" y="612.5"><tspan x="3.5">3-Oxooctanoyl-</tspan><tspan x="3.5" dy="2.8">[acp]</tspan></text>
<circle class="n" cx="0" cy="642" r="2.3"/><text class="lc" y="641.5"><tspan x="3.5">(R)-3-Hydroxy-</tspan><tspan x="3.5" dy="2.8">octanoyl-[acp]</tspan></text>
<circle class="n" cx="0" cy="669" r="2.3"/><text class="lc" y="668.5"><tspan x="3.5">trans-Oct-</tspan><tspan x="3.5" dy="2.8">2-enoyl-[acp]</tspan></text>
<circle class="n" cx="0" cy="708" r="2.3"/><text class="lc" x="3.5" y="712">Octanoyl-[acp]</text>
<circle class="n" cx="0" cy="736" r="2.3"/><text class="lc m" x="0" y="741.5">Octanoic acid</text>
</g>

<g id="c-col4" transform="translate(283,0)">
<rect class="cb" x="-13.5" y="592"/><text class="ct" x="-7.5" y="595.4">FASN</text><rect class="cb" x="1.5" y="592"/><text class="ct" x="7.5" y="595.4">FabB</text>
<rect class="cb" x="-13.5" y="597.5"/><text class="ct" x="-7.5" y="600.9">Fas2</text><rect class="cb" x="1.5" y="597.5"/><text class="ct" x="7.5" y="600.9">FabF</text>
<rect class="cb" x="-13.5" y="603"/><text class="ct" x="-7.5" y="606.4">Fas</text>
<rect class="cb" x="-13.5" y="620"/><text class="ct" x="-7.5" y="623.4">FASN</text><rect class="cb" x="1.5" y="620"/><text class="ct" x="7.5" y="623.4">FabG</text>
<rect class="cb" x="-13.5" y="625.5"/><text class="ct" x="-7.5" y="628.9">Fas2</text><rect class="cb" x="1.5" y="625.5"/><text class="ct" x="7.5" y="628.9">CBR4</text>
<rect class="cb" x="-13.5" y="631"/><text class="ct" x="-7.5" y="634.4">Fas</text><rect class="cb rc" x="1.5" y="631"/><text class="ct" x="7.5" y="634.4">HSD17B8</text>
<rect class="cb" x="-13.5" y="648"/><text class="ct" x="-7.5" y="651.4">FASN</text><rect class="cb" x="1.5" y="648"/><text class="ct" x="7.5" y="651.4">FabA</text>
<rect class="cb" x="-13.5" y="653.5"/><text class="ct" x="-7.5" y="656.9">Fas2</text><rect class="cb" x="1.5" y="653.5"/><text class="ct" x="7.5" y="656.9">FabZ</text>
<rect class="cb" x="-13.5" y="659"/><text class="ct" x="-7.5" y="662.4">Fas</text><rect class="cb" x="1.5" y="659"/><text class="ct" x="7.5" y="662.4">HTD2</text>
<rect class="cb" x="1.5" y="675"/><text class="ct" x="7.5" y="678.4">FabI</text>
<rect class="cb" x="-13.5" y="680.5"/><text class="ct" x="-7.5" y="683.9">FASN</text><rect class="cb" x="1.5" y="680.5"/><text class="ct" x="7.5" y="683.9">FabK</text>
<rect class="cb" x="-13.5" y="686"/><text class="ct" x="-7.5" y="689.4">Fas2</text><rect class="cb" x="1.5" y="686"/><text class="ct" x="7.5" y="689.4">FabL</text>
<rect class="cb" x="-13.5" y="691.5"/><text class="ct" x="-7.5" y="694.9">Fas</text><rect class="cb" x="1.5" y="691.5"/><text class="ct" x="7.5" y="694.9">FabV</text>
<rect class="cb" x="1.5" y="698"/><text class="ct" x="7.5" y="701.4">MECR</text>
<rect class="cb" x="-6" y="720"/><text class="ct" x="0" y="723.4">3.1.2.14</text>
<rect class="cb" x="-21.5" y="715" style="width:13px"/><text class="ct" x="-15" y="718.4">5.3.3.14</text>
<circle class="n" cx="0" cy="613" r="2.3"/><text class="lc" y="612.5"><tspan x="3.5">3-Oxodecanoyl-</tspan><tspan x="3.5" dy="2.8">[acp]</tspan></text>
<circle class="n" cx="0" cy="642" r="2.3"/><text class="lc" y="641.5"><tspan x="3.5">(R)-3-Hydroxy-</tspan><tspan x="3.5" dy="2.8">decanoyl-[acp]</tspan></text>
<circle class="n" cx="0" cy="669" r="2.3"/><text class="lc" y="668.5"><tspan x="3.5">trans-Dec-</tspan><tspan x="3.5" dy="2.8">2-enoyl-[acp]</tspan></text>
<circle class="n" cx="0" cy="708" r="2.3"/><text class="lc" x="3.5" y="711">Decanoyl-[acp]</text>
<circle class="n" cx="0" cy="736" r="2.3"/><text class="lc m" x="0" y="741.5">Decanoic acid</text>
<circle class="n" cx="-15" cy="728" r="2.3"/><text class="lc r" y="727"><tspan x="-18">cis-Dec-</tspan><tspan x="-18" dy="2.8">3-enoyl-[acp]</tspan></text>
<circle class="n" cx="-15" cy="753" r="2.3"/><text class="lc" x="-11.5" y="754">ω-7 Unsaturated acyl-[acp]</text>
</g>

<g id="c-col5" transform="translate(326,0)">
<rect class="cb" x="-13.5" y="592"/><text class="ct" x="-7.5" y="595.4">FASN</text><rect class="cb" x="1.5" y="592"/><text class="ct" x="7.5" y="595.4">FabB</text>
<rect class="cb" x="-13.5" y="597.5"/><text class="ct" x="-7.5" y="600.9">Fas2</text><rect class="cb" x="1.5" y="597.5"/><text class="ct" x="7.5" y="600.9">FabF</text>
<rect class="cb" x="-13.5" y="603"/><text class="ct" x="-7.5" y="606.4">Fas</text>
<rect class="cb" x="-13.5" y="620"/><text class="ct" x="-7.5" y="623.4">FASN</text><rect class="cb" x="1.5" y="620"/><text class="ct" x="7.5" y="623.4">FabG</text>
<rect class="cb" x="-13.5" y="625.5"/><text class="ct" x="-7.5" y="628.9">Fas2</text><rect class="cb" x="1.5" y="625.5"/><text class="ct" x="7.5" y="628.9">CBR4</text>
<rect class="cb" x="-13.5" y="631"/><text class="ct" x="-7.5" y="634.4">Fas</text><rect class="cb rc" x="1.5" y="631"/><text class="ct" x="7.5" y="634.4">HSD17B8</text>
<rect class="cb" x="-13.5" y="648"/><text class="ct" x="-7.5" y="651.4">FASN</text><rect class="cb" x="1.5" y="648"/><text class="ct" x="7.5" y="651.4">FabA</text>
<rect class="cb" x="-13.5" y="653.5"/><text class="ct" x="-7.5" y="656.9">Fas2</text><rect class="cb" x="1.5" y="653.5"/><text class="ct" x="7.5" y="656.9">FabZ</text>
<rect class="cb" x="-13.5" y="659"/><text class="ct" x="-7.5" y="662.4">Fas</text><rect class="cb" x="1.5" y="659"/><text class="ct" x="7.5" y="662.4">HTD2</text>
<rect class="cb" x="1.5" y="675"/><text class="ct" x="7.5" y="678.4">FabI</text>
<rect class="cb" x="-13.5" y="680.5"/><text class="ct" x="-7.5" y="683.9">FASN</text><rect class="cb" x="1.5" y="680.5"/><text class="ct" x="7.5" y="683.9">FabK</text>
<rect class="cb" x="-13.5" y="686"/><text class="ct" x="-7.5" y="689.4">Fas2</text><rect class="cb" x="1.5" y="686"/><text class="ct" x="7.5" y="689.4">FabL</text>
<rect class="cb" x="-13.5" y="691.5"/><text class="ct" x="-7.5" y="694.9">Fas</text><rect class="cb" x="1.5" y="691.5"/><text class="ct" x="7.5" y="694.9">FabV</text>
<rect class="cb" x="1.5" y="698"/><text class="ct" x="7.5" y="701.4">MECR</text>
<rect class="cb" x="-6" y="720"/><text class="ct" x="0" y="723.4">3.1.2.14</text>
<circle class="n" cx="0" cy="613" r="2.3"/><text class="lc" y="612.5"><tspan x="3.5">3-Oxododecanoyl-</tspan><tspan x="3.5" dy="2.8">[acp]</tspan></text>
<circle class="n" cx="0" cy="642" r="2.3"/><text class="lc" y="641.5"><tspan x="3.5">(R)-3-Hydroxy-</tspan><tspan x="3.5" dy="2.8">dodecanoyl-[acp]</tspan></text>
<circle class="n" cx="0" cy="669" r="2.3"/><text class="lc" y="668.5"><tspan x="3.5">trans-Dodec-</tspan><tspan x="3.5" dy="2.8">2-enoyl-[acp]</tspan></text>
<circle class="n" cx="0" cy="708" r="2.3"/><text class="lc" x="3.5" y="711">Dodecanoyl-[acp]</text>
<circle class="n" cx="0" cy="736" r="2.3"/><text class="lc m" x="0" y="741.5">Dodecanoic acid</text>
</g>

<g id="c-col6" transform="translate(368,0)">
<rect class="cb" x="-13.5" y="592"/><text class="ct" x="-7.5" y="595.4">FASN</text><rect class="cb" x="1.5" y="592"/><text class="ct" x="7.5" y="595.4">FabB</text>
<rect class="cb" x="-13.5" y="597.5"/><text class="ct" x="-7.5" y="600.9">Fas2</text><rect class="cb" x="1.5" y="597.5"/><text class="ct" x="7.5" y="600.9">FabF</text>
<rect class="cb" x="-13.5" y="603"/><text class="ct" x="-7.5" y="606.4">Fas</text>
<rect class="cb" x="-13.5" y="620"/><text class="ct" x="-7.5" y="623.4">FASN</text><rect class="cb" x="1.5" y="620"/><text class="ct" x="7.5" y="623.4">FabG</text>
<rect class="cb" x="-13.5" y="625.5"/><text class="ct" x="-7.5" y="628.9">Fas2</text><rect class="cb" x="1.5" y="625.5"/><text class="ct" x="7.5" y="628.9">CBR4</text>
<rect class="cb" x="-13.5" y="631"/><text class="ct" x="-7.5" y="634.4">Fas</text><rect class="cb rc" x="1.5" y="631"/><text class="ct" x="7.5" y="634.4">HSD17B8</text>
<rect class="cb" x="-13.5" y="648"/><text class="ct" x="-7.5" y="651.4">FASN</text><rect class="cb" x="1.5" y="648"/><text class="ct" x="7.5" y="651.4">FabA</text>
<rect class="cb" x="-13.5" y="653.5"/><text class="ct" x="-7.5" y="656.9">Fas2</text><rect class="cb" x="1.5" y="653.5"/><text class="ct" x="7.5" y="656.9">FabZ</text>
<rect class="cb" x="-13.5" y="659"/><text class="ct" x="-7.5" y="662.4">Fas</text><rect class="cb" x="1.5" y="659"/><text class="ct" x="7.5" y="662.4">HTD2</text>
<rect class="cb" x="1.5" y="675"/><text class="ct" x="7.5" y="678.4">FabI</text>
<rect class="cb" x="-13.5" y="680.5"/><text class="ct" x="-7.5" y="683.9">FASN</text><rect class="cb" x="1.5" y="680.5"/><text class="ct" x="7.5" y="683.9">FabK</text>
<rect class="cb" x="-13.5" y="686"/><text class="ct" x="-7.5" y="689.4">Fas2</text><rect class="cb" x="1.5" y="686"/><text class="ct" x="7.5" y="689.4">FabL</text>
<rect class="cb" x="-13.5" y="691.5"/><text class="ct" x="-7.5" y="694.9">Fas</text><rect class="cb" x="1.5" y="691.5"/><text class="ct" x="7.5" y="694.9">FabV</text>
<rect class="cb" x="1.5" y="698"/><text class="ct" x="7.5" y="701.4">MECR</text>
<rect class="cb" x="-13.5" y="720"/><text class="ct" x="-7.5" y="723.4">3.1.2.21</text><rect class="cb" x="1.5" y="720"/><text class="ct" x="7.5" y="723.4">3.1.2.14</text>
<circle class="n" cx="0" cy="613" r="2.3"/><text class="lc" y="612.5"><tspan x="3.5">3-Oxotetra-</tspan><tspan x="3.5" dy="2.8">decanoyl-[acp]</tspan></text>
<circle class="n" cx="0" cy="642" r="2.3"/><text class="lc" y="641.5"><tspan x="3.5">(R)-3-Hydroxy-</tspan><tspan x="3.5" dy="2.8">tetradecanoyl-[acp]</tspan></text>
<circle class="n" cx="0" cy="669" r="2.3"/><text class="lc" y="668.5"><tspan x="3.5">trans-Tetra-</tspan><tspan x="3.5" dy="2.8">dec-2-enoyl-[acp]</tspan></text>
<circle class="n" cx="0" cy="708" r="2.3"/><text class="lc" y="712.5"><tspan x="2.5">Tetradecanoyl-</tspan><tspan x="2.5" dy="2.8">[acp]</tspan></text>
<circle class="n" cx="0" cy="736" r="2.3"/><text class="lc m" x="-5" y="741.5">Tetradecanoic acid</text>
</g>

<g id="c-col7" transform="translate(410,0)">
<rect class="cb" x="-13.5" y="592"/><text class="ct" x="-7.5" y="595.4">FASN</text><rect class="cb" x="1.5" y="592"/><text class="ct" x="7.5" y="595.4">FabB</text>
<rect class="cb" x="-13.5" y="597.5"/><text class="ct" x="-7.5" y="600.9">Fas2</text><rect class="cb" x="1.5" y="597.5"/><text class="ct" x="7.5" y="600.9">FabF</text>
<rect class="cb" x="-13.5" y="603"/><text class="ct" x="-7.5" y="606.4">Fas</text>
<rect class="cb" x="-13.5" y="620"/><text class="ct" x="-7.5" y="623.4">FASN</text><rect class="cb" x="1.5" y="620"/><text class="ct" x="7.5" y="623.4">FabG</text>
<rect class="cb" x="-13.5" y="625.5"/><text class="ct" x="-7.5" y="628.9">Fas2</text><rect class="cb" x="1.5" y="625.5"/><text class="ct" x="7.5" y="628.9">CBR4</text>
<rect class="cb" x="-13.5" y="631"/><text class="ct" x="-7.5" y="634.4">Fas</text><rect class="cb rc" x="1.5" y="631"/><text class="ct" x="7.5" y="634.4">HSD17B8</text>
<rect class="cb" x="-13.5" y="648"/><text class="ct" x="-7.5" y="651.4">FASN</text><rect class="cb" x="1.5" y="648"/><text class="ct" x="7.5" y="651.4">FabA</text>
<rect class="cb" x="-13.5" y="653.5"/><text class="ct" x="-7.5" y="656.9">Fas2</text><rect class="cb" x="1.5" y="653.5"/><text class="ct" x="7.5" y="656.9">FabZ</text>
<rect class="cb" x="-13.5" y="659"/><text class="ct" x="-7.5" y="662.4">Fas</text><rect class="cb" x="1.5" y="659"/><text class="ct" x="7.5" y="662.4">HTD2</text>
<rect class="cb" x="1.5" y="675"/><text class="ct" x="7.5" y="678.4">FabI</text>
<rect class="cb" x="-13.5" y="680.5"/><text class="ct" x="-7.5" y="683.9">FASN</text><rect class="cb" x="1.5" y="680.5"/><text class="ct" x="7.5" y="683.9">FabK</text>
<rect class="cb" x="-13.5" y="686"/><text class="ct" x="-7.5" y="689.4">Fas2</text><rect class="cb" x="1.5" y="686"/><text class="ct" x="7.5" y="689.4">FabL</text>
<rect class="cb" x="-13.5" y="691.5"/><text class="ct" x="-7.5" y="694.9">Fas</text><rect class="cb" x="1.5" y="691.5"/><text class="ct" x="7.5" y="694.9">FabV</text>
<rect class="cb" x="1.5" y="698"/><text class="ct" x="7.5" y="701.4">MECR</text>
<rect class="cb" x="-13.5" y="720"/><text class="ct" x="-7.5" y="723.4">3.1.2.21</text><rect class="cb" x="1.5" y="720"/><text class="ct" x="7.5" y="723.4">3.1.2.14</text>
<rect class="cb" x="-32" y="733.8"/><text class="ct" x="-26" y="737.2">Fas1</text><rect class="cb" x="-19.5" y="733.8"/><text class="ct" x="-13.5" y="737.2">Fas</text>
<rect class="cb" x="-6" y="747"/><text class="ct" x="0" y="750.4">6.2.1.3</text>
<circle class="n" cx="0" cy="613" r="2.3"/><text class="lc" x="3.5" y="613.8">3-Oxohexadecanoyl-[acp]</text>
<circle class="n" cx="0" cy="642" r="2.3"/><text class="lc" y="641.5"><tspan x="3.5">(R)-3-Hydroxy-</tspan><tspan x="3.5" dy="2.8">hexadecanoyl-[acp]</tspan></text>
<circle class="n" cx="0" cy="669" r="2.3"/><text class="lc" y="668.5"><tspan x="3.5">trans-Hexadec-</tspan><tspan x="3.5" dy="2.8">2-enoyl-[acp]</tspan></text>
<circle class="n" cx="0" cy="708" r="2.3"/><text class="lc" y="708.5"><tspan x="3">Hexa-</tspan><tspan x="3" dy="2.8">decanoyl-</tspan><tspan x="3" dy="2.8">[acp]</tspan></text>
<circle class="n" cx="0" cy="736" r="2.3"/><text class="lc" y="736"><tspan x="3.5">Hexadecanoic</tspan><tspan x="3.5" dy="2.8">acid</tspan></text>
<circle class="n" cx="0" cy="763" r="2.3"/><text class="lc r" x="-3" y="768">Hexadecanoyl-CoA</text>
</g>

<g id="c-col8" transform="translate(478,0)">
<rect class="cb" x="-13.5" y="597"/><text class="ct" x="-7.5" y="600.4">Fas</text><rect class="cb" x="1.5" y="597"/><text class="ct" x="7.5" y="600.4">FabB</text>
<rect class="cb" x="1.5" y="602.5"/><text class="ct" x="7.5" y="605.9">FabF</text>
<rect class="cb" x="-13.5" y="626"/><text class="ct" x="-7.5" y="629.4">Fas</text><rect class="cb" x="1.5" y="626"/><text class="ct" x="7.5" y="629.4">FabG</text>
<rect class="cb" x="-13.5" y="653.5"/><text class="ct" x="-7.5" y="656.9">Fas</text><rect class="cb" x="1.5" y="653.5"/><text class="ct" x="7.5" y="656.9">FabZ</text>
<rect class="cb" x="-13.5" y="685"/><text class="ct" x="-7.5" y="688.4">Fas</text>
<rect class="cb" x="1.5" y="682"/><text class="ct" x="7.5" y="685.4">FabI</text>
<rect class="cb" x="1.5" y="688"/><text class="ct" x="7.5" y="691.4">FabK</text>
<rect class="cb" x="9" y="705.8" style="width:13px"/><text class="ct" x="15.5" y="709.2">1.14.19.2</text>
<rect class="cb" x="-6" y="720"/><text class="ct" x="0" y="723.4">3.1.2.14</text>
<rect class="cb" x="28" y="720"/><text class="ct" x="34" y="723.4">3.1.2.14</text>
<circle class="n" cx="0" cy="613" r="2.3"/><text class="lc" x="3.5" y="613.8">3-Oxooctadecanoyl-[acp]</text>
<circle class="n" cx="0" cy="642" r="2.3"/><text class="lc" y="641.5"><tspan x="3.5">(R)-3-Hydroxy-</tspan><tspan x="3.5" dy="2.8">octadecanoyl-[acp]</tspan></text>
<circle class="n" cx="0" cy="669" r="2.3"/><text class="lc" x="3.5" y="669.8">trans-Octadec-2-enoyl-[acp]</text>
<circle class="n" cx="0" cy="708" r="2.3"/><text class="lc" y="713.5"><tspan x="2">Octadecanoyl-</tspan><tspan x="2" dy="2.8">[acp]</tspan></text>
<circle class="n" cx="34" cy="708" r="2.3"/><text class="lc m" x="35" y="704">Oleoyl-[acp]</text>
<circle class="n" cx="0" cy="736" r="2.3"/><text class="lc m" x="0" y="741.5">Octadecanoic acid</text>
<circle class="n" cx="34" cy="736" r="2.3"/><text class="lc m" x="36" y="741.5">Octadecenoic acid</text>
</g>

<!-- FAS types box -->
<g id="c-fas-types">
<rect x="138.5" y="787.5" width="313.5" height="205.5" fill="none" stroke="#9a9a9a" stroke-width="0.8"/>
<text class="lc" x="143" y="793.5">General forms</text>
<text class="lc m" x="217" y="793.5" font-weight="bold">Type I FAS</text>
<text class="lc m" x="214" y="799.2">(Animals, Fungi, Bacteria)</text>
<text class="lc m" x="343" y="793.5" font-weight="bold">Type II FAS</text>
<text class="lc m" x="310" y="799.2">(Bacteria, Plants)</text>
<text class="lc m" x="397" y="799.2">In mitochondrion (Animals, Fungi)</text>
<path class="l" d="M166,809H163V972H166M163,857H165.5M163,933H165.5"/>
<text class="lc m" x="153" y="829">Initiation</text>
<text class="lc" y="893"><tspan x="145">Elongation</tspan><tspan x="145" dy="2.8">cycle</tspan></text>
<text class="lc" x="144" y="953.5">Termination</text>
</g>
<g id="c-type1">
<circle class="n" cx="199" cy="809" r="2.3"/><text class="lc r" x="197.5" y="805.3">Acetyl-CoA</text>
<rect class="cb" x="212" y="813.5"/><text class="ct" x="218" y="816.9">6.4.1.2</text>
<circle class="n" cx="218" cy="825" r="2.3"/><text class="lc m" x="220" y="830.8">Malonyl-CoA</text>
<text class="lc r" x="192" y="874">FASN</text><rect class="cb" x="193" y="871.5"/><text class="ct" x="199" y="874.9">2.3.1.85</text>
<text class="lc m" x="229" y="869">FAS1-2</text>
<rect class="cb" x="224.5" y="871.5"/><text class="ct" x="230.5" y="874.9">2.3.1.86</text><rect class="cb" x="238" y="871.5"/><text class="ct" x="244" y="874.9">Fas</text>
<circle class="n" cx="199" cy="953" r="2.3"/><text class="lc" y="952"><tspan x="202.5">Long-chain</tspan><tspan x="202.5" dy="2.8">fatty acid</tspan></text>
<rect class="cb" x="193" y="959"/><text class="ct" x="199" y="962.4">6.2.1.3</text>
<circle class="n" cx="199" cy="971" r="2.3"/><text class="lc r" y="969.5"><tspan x="195.8">Long-chain</tspan><tspan x="195.8" dy="2.8">acyl-CoA</tspan></text>
</g>
<g id="c-type2">
<circle class="n" cx="280" cy="809" r="2.3"/><text class="lc m" x="278" y="805.3">Acetyl-CoA</text>
<rect class="cb" x="304" y="814"/><text class="ct" x="310" y="817.4">6.4.1.2</text>
<circle class="n" cx="310" cy="825" r="2.3"/><text class="lc r" x="306.5" y="826">Malonyl-CoA</text>
<circle class="n" cx="320" cy="832" r="2.3"/><text class="lc" x="323" y="833">ACP</text>
<text class="lc r" x="303" y="839">FabD</text><rect class="cb" x="304" y="836"/><text class="ct" x="310" y="839.4">2.3.1.39</text>
<circle class="n" cx="310" cy="846" r="2.3"/><text class="lc" x="313.5" y="847">Malonyl-[acp]</text>
<text class="lc r" y="851.5"><tspan x="272.5">FabH</tspan><tspan x="272.5" dy="2.6">FabY</tspan></text>
<rect class="cb" x="273.5" y="850"/><text class="ct" x="279.5" y="853.4">2.3.1.180</text>
<text class="lc r" x="296.5" y="858.5">FabB</text>
<rect class="cb" x="297.5" y="855.5"/><text class="ct" x="303.5" y="858.9">2.3.1.41</text><rect class="cb" x="311" y="855.5"/><text class="ct" x="317" y="858.9">2.3.1.179</text>
<text class="lc" x="324.5" y="858.5">FabF</text>
<circle class="n" cx="310" cy="868" r="2.3"/><text class="lc" x="313.5" y="869">3-Oxoacyl-[acp]</text>
<rect class="cb" x="304" y="877.5"/><text class="ct" x="310" y="880.9">1.1.1.100</text><text class="lc" x="319" y="880.5">FabG</text>
<circle class="n" cx="310" cy="890" r="2.3"/><text class="lc" y="889.3"><tspan x="313.5">(R)-3-Hydroxy-</tspan><tspan x="313.5" dy="2.8">acyl-[acp]</tspan></text>
<rect class="cb" x="304" y="900"/><text class="ct" x="310" y="903.4">4.2.1.59</text>
<text class="lc" y="902"><tspan x="319">FabZ</tspan><tspan x="319" dy="2.6">FabA</tspan></text>
<circle class="n" cx="310" cy="913" r="2.3"/><text class="lc" x="313.5" y="914">trans-2-Enoyl-[acp]</text>
<text class="lc r" x="297.5" y="925">FabI</text>
<rect class="cb" x="297.5" y="922"/><text class="ct" x="303.5" y="925.4">1.3.1.10</text>
<rect class="cb" x="311" y="919.3"/><text class="ct" x="317" y="922.7">1.3.1.9</text>
<rect class="cb" x="311" y="924.5"/><text class="ct" x="317" y="927.9">1.3.1.104</text>
<text class="lc" y="921"><tspan x="324.5">FabL</tspan><tspan x="324.5" dy="2.6">FabK</tspan><tspan x="324.5" dy="2.6">FabV</tspan></text>
<circle class="n" cx="310" cy="933" r="2.3"/><text class="lc r" x="305" y="931.5">Long-chain acyl-[acp]</text>
<text class="lc m" x="277" y="966.5">Long-chain acyl-[acp]</text>
<rect class="cb" x="297.5" y="942.5"/><text class="ct" x="303.5" y="945.9">3.1.2.21</text><rect class="cb" x="311" y="942.5"/><text class="ct" x="317" y="945.9">3.1.2.14</text>
<circle class="n" cx="310" cy="952" r="2.3"/><text class="lc" y="951"><tspan x="313.5">Long-chain</tspan><tspan x="313.5" dy="2.8">fatty acid</tspan></text>
<rect class="cb" x="304" y="959"/><text class="ct" x="310" y="962.4">6.2.1.3</text>
<circle class="n" cx="310" cy="971" r="2.3"/><text class="lc m" x="308" y="976.5">Long-chain acyl-CoA</text>
</g>
<g id="c-mito">
<circle class="n" cx="363" cy="810" r="2.3"/><text class="lc m" x="363" y="805.5">Acetyl-CoA</text>
<rect class="cb" x="387" y="814"/><text class="ct" x="393" y="817.4">6.4.1.2</text>
<circle class="n" cx="393" cy="825" r="2.3"/><text class="lc r" x="389.5" y="826">Malonyl-CoA</text>
<rect class="cb" x="405" y="822.8"/><text class="ct" x="411" y="826.2">6.2.1.76</text>
<circle class="n" cx="427" cy="825" r="2.3"/><text class="lc" x="430.5" y="826">Malonate</text>
<circle class="n" cx="405" cy="832" r="2.3"/><text class="lc" x="408" y="833">ACP</text>
<text class="lc r" x="386" y="839">MCT</text><rect class="cb" x="387" y="836.5"/><text class="ct" x="393" y="839.9">2.3.1.39</text><text class="lc" x="400.5" y="839">MCAT</text>
<circle class="n" cx="363" cy="843" r="2.3"/><text class="lc m" x="361" y="839.3">Acetyl-[acp]</text>
<circle class="n" cx="393" cy="846" r="2.3"/><text class="lc" x="396.5" y="847">Malonyl-[acp]</text>
<rect class="cb" x="357" y="855"/><text class="ct" x="363" y="858.4">OXSM</text>
<text class="lc r" x="386" y="858.5">OXSM</text><rect class="cb" x="387" y="855.5"/><text class="ct" x="393" y="858.9">OXSM</text>
<circle class="n" cx="393" cy="868" r="2.3"/><text class="lc" x="396.5" y="869">3-Oxoacyl-[acp]</text>
<rect class="cb" x="380" y="877.5"/><text class="ct" x="386" y="880.9">OAR1</text>
<rect class="cb" x="395" y="875"/><text class="ct" x="401" y="878.4">CBR4</text>
<rect class="cb rc" x="395" y="880.8"/><text class="ct" x="401" y="884.2">HSD17B8</text>
<circle class="n" cx="393" cy="890" r="2.3"/><text class="lc" y="889.3"><tspan x="396.5">(R)-3-Hydroxy-</tspan><tspan x="396.5" dy="2.8">acyl-[acp]</tspan></text>
<rect class="cb" x="387" y="900"/><text class="ct" x="393" y="903.4">HTD2</text>
<circle class="n" cx="393" cy="913" r="2.3"/><text class="lc" x="396.5" y="914">trans-2-Enoyl-[acp]</text>
<rect class="cb" x="387" y="922"/><text class="ct" x="393" y="925.4">MECR</text>
<circle class="n" cx="393" cy="933" r="2.3"/><text class="lc r" x="389.5" y="931.5">Acyl-[acp]</text>
<text class="lc m" x="396" y="957.5">Octanoyl-[acp]</text>
<text class="lc m" y="965.5"><tspan x="365">Long-chain acyl-[acp]</tspan><tspan x="365" dy="2.8">(Hexadecanoyl-[acp])</tspan></text>
</g>
<g id="c-footer"><text class="ft" x="113" y="998.5" font-size="2.9">Data on KEGG graph</text><text class="ft" x="113" y="1002.5" font-size="2.9">Rendered by Pathview</text></g>
</svg>
